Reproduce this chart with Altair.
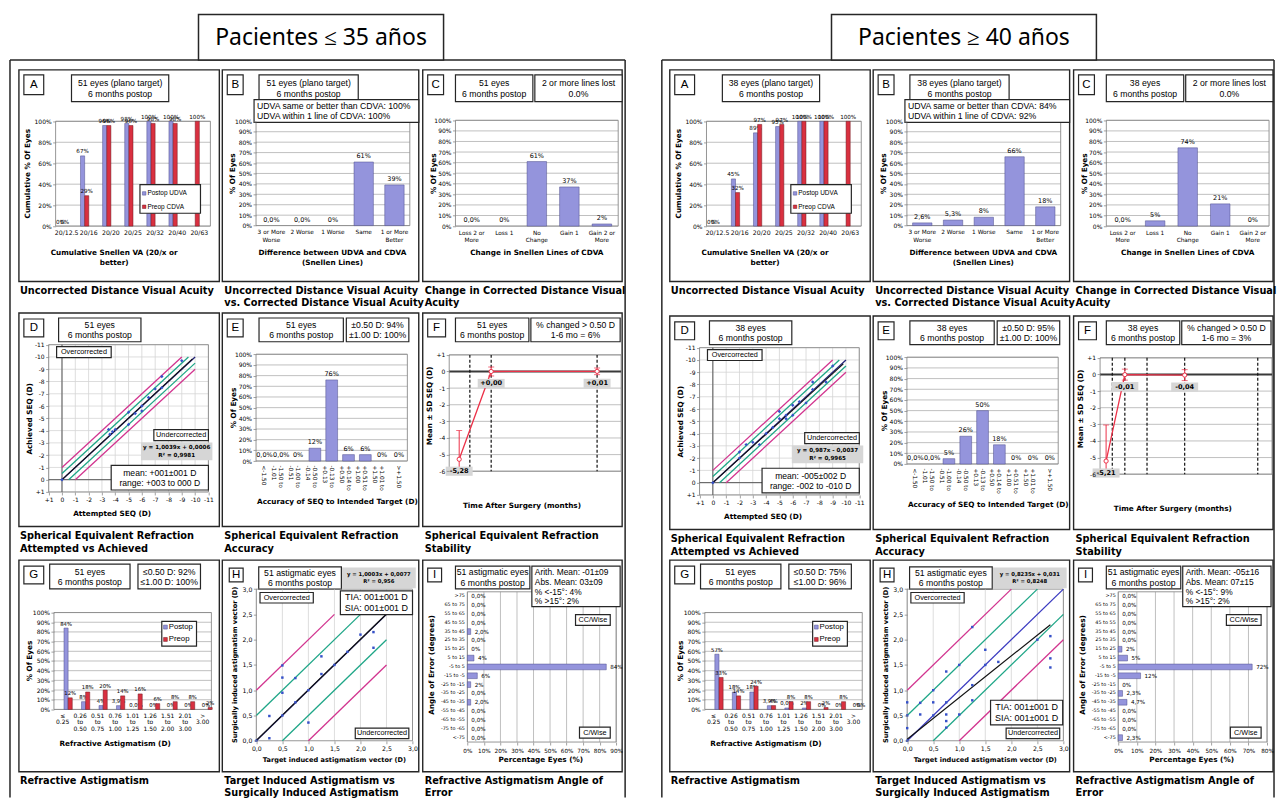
import altair as alt
import pandas as pd

# ============================ DATA ============================
HEADERS = ["Pacientes \u2264 35 a\u00f1os", "Pacientes \u2265 40 a\u00f1os"]
EYES = ["51 eyes\n6 months postop", "38 eyes\n6 months postop"]

A_CATS = ["20/12.5", "20/16", "20/20", "20/25", "20/32", "20/40", "20/63"]
A_SERIES = ["Postop UDVA", "Preop CDVA"]
A_UDVA = [[0, 67, 96, 98, 100, 100, None], [0, 45, 89, 95, 100, 100, None]]
A_CDVA = [[0, 29, 96, 96, 98, 98, 100], [0, 32, 97, 97, 100, 100, 100]]
A_TITLE = ["51 eyes (plano target)\n6 months postop", "38 eyes (plano target)\n6 months postop"]

B_CATS = ["3 or More\nWorse", "2 Worse", "1 Worse", "Same", "1 or More\nBetter"]
B_VALS = [[0, 0, 0, 61, 39], [2.6, 5.3, 8, 66, 18]]
B_LABS = [["0,0%", "0,0%", "0%", "61%", "39%"], ["2,6%", "5,3%", "8%", "66%", "18%"]]
B_INFO = ["UDVA same or better than CDVA: 100%\nUDVA within 1 line of CDVA: 100%",
          "UDVA same or better than CDVA: 84%\nUDVA within 1 line of CDVA: 92%"]

C_CATS = ["Loss 2 or\nMore", "Loss 1", "No\nChange", "Gain 1", "Gain 2 or\nMore"]
C_VALS = [[0, 0, 61, 37, 2], [0, 5, 74, 21, 0]]
C_LABS = [["0,0%", "0%", "61%", "37%", "2%"], ["0,0%", "5%", "74%", "21%", "0%"]]
C_LOST = "2 or more lines lost\n0.0%"

D_TICKS = list(range(-11, 2))
D_ATT = [[0, -3.5, -3.6, -3.8, -4.0, -5.0, -5.0, -5.5, -6.0, -6.0, -6.5, -7.0, -7.5, -7.5, -9.0],
         [0, -2.0, -2.0, -2.5, -3.0, -3.5, -4.0, -4.5, -5.0, -5.0, -5.5, -5.5, -6.0, -6.0, -6.5,
          -7.0, -7.5, -7.5, -8.5, -9.0]]
D_ACH = [[0, -4.1, -3.7, -3.9, -4.1, -4.5, -5.5, -5.4, -5.6, -6.0, -6.7, -7.4, -7.5, -8.4, -9.7],
         [0, -2.5, -2.0, -3.1, -3.3, -3.1, -4.0, -4.5, -5.2, -5.8, -5.5, -5.2, -6.3, -5.5, -6.6,
          -6.5, -8.2, -7.6, -8.2, -9.5]]
D_IDEAL = [(0, 0, -10, -10)]
D_BAND05 = [(0, -0.5, -9.5, -10), (-0.5, 0, -10, -9.5)]
D_BAND10 = [(0, -1, -9, -10), (-1, 0, -10, -9)]
D_FITLINE = [[(0, 0.0006, -9.8, -9.838)], [(0, -0.0037, -9.8, -9.676)]]
D_FIT = ["y = 1,0039x + 0,0006\nR\u00b2 = 0,9981", "y = 0,987x - 0,0037\nR\u00b2 = 0,9965"]
D_MEAN = ["mean: +001\u00b1001 D\nrange: +003 to 000 D", "mean: -005\u00b1002 D\nrange: -002 to -010 D"]

E_CATS = ["<-1.50", "-1.50 to\n-1.01", "-1.00 to\n-0.51", "-0.50 to\n-0.14", "-0.13 to\n+0.13",
          "+0.14 to\n+0.50", "+0.51 to\n+1.00", "+1.01 to\n+1.50", ">+1.50"]
E_VALS = [[0, 0, 0, 12, 76, 6, 6, 0, 0], [0, 0, 5, 26, 50, 18, 0, 0, 0]]
E_LABS = [["0,0%", "0,0%", "0%", "12%", "76%", "6%", "6%", "0%", "0%"],
          ["0,0%", "0,0%", "5%", "26%", "50%", "18%", "0%", "0%", "0%"]]
E_ACC = ["\u00b10.50 D: 94%\n\u00b11.00 D: 100%", "\u00b10.50 D: 95%\n\u00b11.00 D: 100%"]

F_TICKS = list(range(-6, 2))
F_T = [[5.8, 24.4, 86.0], [3.5, 14.4, 49.2]]
F_MEAN = [[-5.28, 0.00, 0.01], [-5.21, -0.01, -0.04]]
F_SD = [[1.73, 0.27, 0.20], [2.17, 0.33, 0.33]]
F_LABS = [["-5,28", "+0,00", "+0,01"], ["-5,21", "-0,01", "-0,04"]]
F_DASH = [[12.0, 24.4, 86.0], [7.1, 14.4, 27.3, 49.2, 91.7]]
F_CHANGED = ["% changed > 0.50 D\n1-6 mo = 6%", "% changed > 0.50 D\n1-6 mo = 3%"]

G_CATS = ["\u2264\n0.25", "0.26\nto\n0.50", "0.51\nto\n0.75", "0.76\nto\n1.00", "1.01\nto\n1.25",
          "1.26\nto\n1.50", "1.51\nto\n2.00", "2.01\nto\n3.00", ">\n3.00"]
G_SERIES = ["Postop", "Preop"]
G_POST = [[84, 8, 4, 3.9, 0, 0, 0, 0, 0], [57, 18, 18, 3.9, 1.5, 1.5, 0, 0, 0]]
G_PRE = [[12, 18, 20, 14, 16, 6, 8, 8, 2], [33, 14, 24, 4, 8, 8, 2, 8, 0]]
G_POST_LABS = [["84%", "8%", "4%", "3,9%", "0,0%", "0%", "0%", "0%", "0%"],
               ["57%", "18%", "18%", "3,9%", "0,0%", "2%", "0%", "0%", "0%"]]
G_PRE_LABS = [["12%", "18%", "20%", "14%", "16%", "6%", "8%", "8%", "2%"],
              ["33%", "14%", "24%", "4%", "8%", "8%", "2%", "8%", "0%"]]
G_ACC = ["\u22640.50 D: 92%\n\u22641.00 D: 100%", "\u22640.50 D: 75%\n\u22641.00 D: 96%"]

H_TICKS = [0, 0.5, 1.0, 1.5, 2.0, 2.5, 3.0]
H_TIA = [[0.0, 0.25, 0.25, 0.5, 0.5, 0.5, 0.5, 0.75, 0.75, 1.0, 1.0, 1.25, 1.25, 1.5, 1.75, 2.0, 2.25, 2.25],
         [0.0, 0.0, 0.0, 0.0, 0.25, 0.25, 0.5, 0.5, 0.5, 0.75, 0.75, 0.75, 0.75, 0.75, 1.0, 1.0, 1.25,
          1.25, 1.25, 1.5, 1.5, 1.75, 2.5, 2.75, 2.75, 2.75]]
H_SIA = [[0.0, 0.05, 0.49, 1.49, 1.25, 0.95, 0.5, 1.24, 0.76, 1.0, 0.36, 1.67, 1.32, 1.5, 1.76, 2.1, 2.15, 1.84],
         [0.0, 0.25, 0.5, 0.76, 0.75, 0.52, 1.0, 0.76, 0.5, 1.37, 0.76, 0.52, 0.39, 0.26, 1.5, 0.52, 2.25,
          1.1, 0.8, 1.8, 1.5, 1.56, 2.0, 2.07, 1.63, 1.45]]
H_IDEAL = [[(0, 0, 2.5, 2.5)], [(0, 0, 3, 3)]]
H_BAND05 = [[(0, 0.5, 2, 2.5), (0.5, 0, 2.5, 2)], [(0, 0.5, 2.5, 3), (0.5, 0, 3, 2.5)]]
H_BAND10 = [[(0, 1, 1.5, 2.5), (1, 0, 2.5, 1.5)], [(0, 1, 2, 3), (1, 0, 3, 2)]]
H_FITLINE = [[(0, 0.0077, 2.5, 2.508)], [(0, 0.031, 2.75, 2.296)]]
H_FIT = ["y = 1,0003x + 0,0077\nR\u00b2 = 0,956", "y = 0,8235x + 0,031\nR\u00b2 = 0,8248"]
H_VEC = "TIA: 001\u00b1001 D\nSIA: 001\u00b1001 D"
H_TITLE = "51 astigmatic eyes\n6 months postop"

I_CATS = [">75", "65 to 75", "55 to 65", "45 to 55", "35 to 45", "25 to 35", "15 to 25", "5 to 15",
          "-5 to 5", "-15 to -5", "-25 to -15", "-35 to -25", "-45 to -35", "-55 to -45",
          "-65 to -55", "-75 to -65", "<-75"]
I_VALS = [[0, 0, 0, 0, 2, 0, 0, 4, 84, 6, 2, 0, 2, 0, 0, 0, 0],
          [0, 0, 0, 0, 0, 0, 2, 5, 72, 12, 0, 2.3, 4.7, 0, 0, 0, 2.3]]
I_LABS = [["0,0%", "0,0%", "0,0%", "0,0%", "2,0%", "0,0%", "0%", "4%", "84%", "6%", "2%", "0,0%",
           "2,0%", "0,0%", "0,0%", "0,0%", "0,0%"],
          ["0,0%", "0,0%", "0,0%", "0,0%", "0,0%", "0,0%", "2%", "5%", "72%", "12%", "0%", "2,3%",
           "4,7%", "0,0%", "0,0%", "0,0%", "2,3%"]]
I_XMAX = [90, 80]
I_STATS = ["Arith. Mean: -01\u00b109\nAbs. Mean: 03\u00b109\n% <-15\u00b0: 4%\n% >15\u00b0: 2%",
           "Arith. Mean: -05\u00b116\nAbs. Mean: 07\u00b115\n% <-15\u00b0: 9%\n% >15\u00b0: 2%"]

CAPTIONS = [["Uncorrected Distance Visual Acuity",
             "Uncorrected Distance Visual Acuity\nvs. Corrected Distance Visual Acuity",
             "Change in Corrected Distance Visual\nAcuity"],
            ["Spherical Equivalent Refraction\nAttempted vs Achieved",
             "Spherical Equivalent Refraction\nAccuracy",
             "Spherical Equivalent Refraction\nStability"],
            ["Refractive Astigmatism",
             "Target Induced Astigmatism vs\nSurgically Induced Astigmatism",
             "Refractive Astigmatism Angle of\nError"]]

# ============================ STYLE ============================
ARIAL = "Liberation Sans"
VERD = "DejaVu Sans"
HEAD_FONT = "Noto Sans"
BLUE, BLUE_ST = "#9494dc", "#4d4d8c"
RED, RED_ST = "#d93040", "#6e1a20"
GRID = "#b0b0b0"
LGRID = "#d4d4d4"
BORDER = "#8a8a8a"
FRAME = "#262626"
MAG = "#d2348f"
GRN = "#1ea687"
NAVY = "#23237a"
IDEAL_BLUE = "#3a3ac0"
PTC = "#3550c8"
FRED = "#ec3148"
FILLGREY = "#d6d6d6"
SIGNED = "datum.value > 0 ? '+' + datum.value : '' + datum.value"
COMMA = "replace(format(datum.value, '.1f'), '.', ',')"
PCT = "datum.value + '%'"
RECT_PATH = "M-1,-0.34L1,-0.34L1,0.34L-1,0.34Z"

# ============================ LAYOUT ============================
SX = 1269 / 1277
SY = 0.99


def PX(x):
    return 8 + (x - 8) * SX


def PY(y):
    return 8 + (y - 8) * SY


COLB = [8, 224, 424, 630, 880, 1080, 1285]
ROWB = [8, 316, 566, 807]
COLP = [round(PX(v)) for v in COLB]
ROWP = [round(PY(v)) for v in ROWB]
ONE = pd.DataFrame({"o": [0]})


class Cell:
    def __init__(self, ci, ri, dx=0.0, dy=0.0):
        self.ox, self.oy = COLP[ci], ROWP[ri]
        self.w, self.h = COLP[ci + 1] - COLP[ci], ROWP[ri + 1] - ROWP[ri]
        self.dx, self.dy = dx, dy
        self.layers = []

    def X(self, x):
        return round(PX(x + self.dx) - self.ox, 2)

    def Y(self, y):
        return round(PY(y + self.dy) - self.oy, 2)

    def add(self, ch):
        self.layers.append(ch)

    def chart(self):
        return alt.layer(*self.layers).properties(width=self.w, height=self.h)


def box(c, x0, y0, x1, y1, fill="white", stroke=FRAME, sw=1.2):
    kw = {"fill": fill}
    if stroke:
        kw["stroke"] = stroke
        kw["strokeWidth"] = sw
    else:
        kw["strokeWidth"] = 0
    c.add(alt.Chart(ONE).mark_rect(**kw).encode(
        x=alt.value(c.X(x0)), x2=alt.value(c.X(x1)), y=alt.value(c.Y(y0)), y2=alt.value(c.Y(y1))))


def txt(c, x, y, s, size=8.7, bold=False, font=ARIAL, align="center", baseline="middle",
        angle=None, color="black", lh=None):
    n = s.count("\n") + 1
    if lh is None:
        lh = round(size * 1.2, 2)
    if n > 1 and baseline == "middle":
        baseline = "top"
        y = y - (n - 1) * lh / 2 - 0.44 * size
    kw = dict(text=s, fontSize=size, font=font, align=align, baseline=baseline, color=color,
              lineBreak="\n", lineHeight=lh)
    if bold:
        kw["fontWeight"] = "bold"
    if angle is not None:
        kw["angle"] = angle
    c.add(alt.Chart(ONE).mark_text(**kw).encode(x=alt.value(c.X(x)), y=alt.value(c.Y(y))))


def seg(c, x0, y0, x1, y1, color=FRAME, sw=1.4):
    c.add(alt.Chart(ONE).mark_rule(color=color, strokeWidth=sw).encode(
        x=alt.value(c.X(x0)), x2=alt.value(c.X(x1)), y=alt.value(c.Y(y0)), y2=alt.value(c.Y(y1))))


def frame(c, x0, y0, x1, y1):
    box(c, x0, y0, x1, y1, fill="white", stroke=FRAME, sw=1.4)


def letter(c, x0, y0, x1, y1, s):
    box(c, x0, y0, x1, y1, fill="white", stroke=FRAME, sw=1.2)
    txt(c, (x0 + x1) / 2, (y0 + y1) / 2 + 0.5, s, size=11.5)


def caption(c, x, y, s, lh=12.5):
    txt(c, x, y - 4.4, s, size=9.8, bold=True, font=VERD, align="left", baseline="top", lh=lh)


def atitle(c, x, y, s, size=7.3, angle=None, lh=10):
    txt(c, x, y, s, size=size, bold=True, font=VERD, angle=angle, lh=lh)


def left_axis(c, px0, ticks=None, expr=None, size=6.0, tick=True, pad=1.5):
    kw = dict(orient="left", offset=-c.X(px0), title=None, domain=False, grid=False, ticks=tick,
              labelFont=VERD, labelFontSize=size, labelColor="black", labelPadding=pad,
              labelOverlap=False, zindex=2)
    if tick:
        kw.update(tickSize=3, tickColor=BORDER, tickWidth=0.8)
    if ticks is not None:
        kw.update(values=ticks, labelFlush=False)
    if expr:
        kw["labelExpr"] = expr
    return alt.Axis(**kw)


def bottom_axis(c, pyb, ticks=None, expr=None, size=6.0, tick=True, pad=2.0, lh=None, angle=0):
    kw = dict(orient="bottom", offset=c.Y(pyb) - c.h, title=None, domain=False, grid=False, ticks=tick,
              labelFont=VERD, labelFontSize=size, labelColor="black", labelPadding=pad,
              labelOverlap=False, labelAngle=angle, zindex=2)
    if tick:
        kw.update(tickSize=3, tickColor=BORDER, tickWidth=0.8)
    if ticks is not None:
        kw.update(values=ticks, labelFlush=False)
    if expr:
        kw["labelExpr"] = expr
    if lh:
        kw["labelLineHeight"] = lh
    return alt.Axis(**kw)


def vbars(c, cats, series, vals_list, labs_list, fills, strokes, px0, px1, pyb, pyt, ymax, ystep,
          pin, sub_pad=0.0, lab_size=6.5, lab_dy=2.0, xl_size=6.2, xl_lh=7.5, xl_angle=0, xl_pad=3):
    xs = alt.Scale(domain=cats, range=[c.X(px0), c.X(px1)], paddingInner=pin, paddingOuter=pin / 2)
    ys = alt.Scale(domain=[0, ymax], range=[c.Y(pyb), c.Y(pyt)])
    ticks = list(range(0, ymax + 1, ystep))
    yax = left_axis(c, px0, ticks, PCT)
    xax = bottom_axis(c, pyb, None, "split(datum.label, '\\n')", size=xl_size, tick=False,
                      pad=xl_pad, lh=xl_lh, angle=xl_angle)
    gdf = pd.DataFrame({"t": ticks})
    c.add(alt.Chart(gdf).mark_rule(color=GRID, strokeWidth=0.8).encode(
        y=alt.Y("t:Q", scale=ys, axis=yax), x=alt.value(c.X(px0)), x2=alt.value(c.X(px1))))
    box(c, px0, pyt, px1, pyb, fill="transparent", stroke=BORDER, sw=0.9)
    for k in range(len(series)):
        rows = [(cat, series[k], v, l) for cat, v, l in zip(cats, vals_list[k], labs_list[k]) if v is not None]
        df = pd.DataFrame(rows, columns=["cat", "ser", "v", "lab"])
        enc = {"x": alt.X("cat:N", scale=xs, axis=xax), "y": alt.Y("v:Q", scale=ys, axis=yax)}
        if len(series) > 1:
            enc["xOffset"] = alt.XOffset("ser:N", scale=alt.Scale(domain=series, paddingInner=sub_pad))
        c.add(alt.Chart(df[df["v"] > 0]).mark_bar(fill=fills[k], stroke=strokes[k], strokeWidth=0.5)
              .encode(**enc))
        c.add(alt.Chart(df).mark_text(font=VERD, fontSize=lab_size, baseline="bottom", dy=-lab_dy,
                                      color="black").encode(text="lab:N", **enc))


def pct_labels(vals):
    return ["" if v is None else f"{v:g}%" for v in vals]


def diag(c, dmin, dmax, xr, yr, ticks, expr, vgrid=True, hgrid=True, lsize=6.0):
    xs = alt.Scale(domain=[dmin, dmax], range=[c.X(xr[0]), c.X(xr[1])])
    ys = alt.Scale(domain=[dmin, dmax], range=[c.Y(yr[0]), c.Y(yr[1])])
    xl, xh, yt, yb = min(xr), max(xr), min(yr), max(yr)
    xax = bottom_axis(c, yb, ticks, expr, size=lsize)
    yax = left_axis(c, xl, ticks, expr, size=lsize)
    tdf = pd.DataFrame({"t": ticks})
    c.add(alt.Chart(tdf).mark_rule(color=LGRID, strokeWidth=0.8 if vgrid else 0).encode(
        x=alt.X("t:Q", scale=xs, axis=xax), y=alt.value(c.Y(yt)), y2=alt.value(c.Y(yb))))
    c.add(alt.Chart(tdf).mark_rule(color=LGRID, strokeWidth=0.8 if hgrid else 0).encode(
        y=alt.Y("t:Q", scale=ys, axis=yax), x=alt.value(c.X(xl)), x2=alt.value(c.X(xh))))
    box(c, xl, yt, xh, yb, fill="transparent", stroke=BORDER, sw=0.9)
    return xs, ys, xax, yax, (xl, xh, yt, yb)


def segs(c, S, sc, color, sw=1.3):
    xs, ys, xax, yax = sc
    df = pd.DataFrame(S, columns=["x0", "y0", "x1", "y1"])
    c.add(alt.Chart(df).mark_rule(color=color, strokeWidth=sw).encode(
        x=alt.X("x0:Q", scale=xs, axis=xax), y=alt.Y("y0:Q", scale=ys, axis=yax),
        x2="x1:Q", y2="y1:Q"))


def pts(c, X, Y, sc, shape, size):
    xs, ys, xax, yax = sc
    df = pd.DataFrame({"a": X, "b": Y})
    c.add(alt.Chart(df).mark_point(shape=shape, filled=True, color=PTC, size=size, opacity=1).encode(
        x=alt.X("a:Q", scale=xs, axis=xax), y=alt.Y("b:Q", scale=ys, axis=yax)))


# ============================ PANELS ============================
def header(c, g):
    odx, ody = c.dx, c.dy
    c.dx = c.dy = 0
    hx0, hx1 = [(200, 447), (838, 1105)][g]
    gx0, gx1 = [(10, 630), (667, 1284)][g]
    seg(c, gx0, 60, gx0, 806, sw=1.5)
    seg(c, gx1, 60, gx1, 806, sw=1.5)
    seg(c, gx0, 60, gx1, 60, sw=1.5)
    box(c, hx0, 14, hx1, 60, stroke=FRAME, sw=1.5)
    txt(c, (hx0 + hx1) / 2, 37.5, HEADERS[g], size=23, font=HEAD_FONT)
    c.dx, c.dy = odx, ody


def panel_A(c, g):
    frame(c, 19, 70, 221, 284)
    letter(c, 24, 75, 44, 95, "A")
    box(c, 72, 75, 170, 102)
    txt(c, 121, 88.5, A_TITLE[g], lh=10.5)
    vbars(c, A_CATS, A_SERIES, [A_UDVA[g], A_CDVA[g]], [pct_labels(A_UDVA[g]), pct_labels(A_CDVA[g])],
          [BLUE, RED], [BLUE_ST, RED_ST], 56, 212, 228, 122, 100, 20, pin=0.25,
          lab_size=5.6, lab_dy=1.5, xl_size=6.2)
    box(c, 141, 186, 202, 215)
    box(c, 143.5, 193.2, 147, 196.7, fill=BLUE, stroke=BLUE_ST, sw=0.5)
    txt(c, 148.5, 195, A_SERIES[0], size=6.5, align="left")
    box(c, 143.5, 206.7, 147, 210.2, fill=RED, stroke=RED_ST, sw=0.5)
    txt(c, 148.5, 208.5, A_SERIES[1], size=6.5, align="left")
    atitle(c, 28, 175, "Cumulative % Of Eyes", angle=270)
    atitle(c, 115, 259, "Cumulative Snellen VA (20/x or\nbetter)")
    caption(c, 20, 293, CAPTIONS[0][0])


def panel_B(c, g):
    frame(c, 224, 70, 422, 284)
    letter(c, 229, 75, 245, 95, "B")
    box(c, 261, 75, 361, 102)
    txt(c, 311, 88.5, A_TITLE[g], lh=10.5)
    vbars(c, B_CATS, ["v"], [B_VALS[g]], [B_LABS[g]], [BLUE], [BLUE_ST], 258, 413, 227.5, 122, 100, 10,
          pin=0.37, lab_size=6.5, lab_dy=3, xl_size=5.8, xl_lh=7.5)
    box(c, 256, 100, 422, 123)
    txt(c, 259, 111.5, B_INFO[g], align="left", lh=10.5)
    atitle(c, 235, 175, "% Of Eyes", angle=270)
    atitle(c, 335, 259, "Difference between  UDVA and CDVA\n(Snellen Lines)")
    caption(c, 226, 293, CAPTIONS[0][1])


def panel_C(c, g):
    frame(c, 426, 70, 627, 284)
    letter(c, 431, 75, 447, 95, "C")
    box(c, 459, 75, 537, 102)
    txt(c, 498, 88.5, EYES[g], lh=10.5)
    box(c, 539, 75, 627, 102)
    txt(c, 583, 88.5, C_LOST, lh=10.5)
    vbars(c, C_CATS, ["v"], [C_VALS[g]], [C_LABS[g]], [BLUE], [BLUE_ST], 459, 623, 228, 121, 100, 10,
          pin=0.4, lab_size=6.5, lab_dy=3, xl_size=5.8, xl_lh=7.5)
    atitle(c, 437, 175, "% Of Eyes", angle=270)
    atitle(c, 541, 255, "Change in Snellen Lines of CDVA")
    caption(c, 428, 293, CAPTIONS[0][2])


def panel_D(c, g):
    frame(c, 19, 316, 221, 532)
    letter(c, 24, 322, 44, 340, "D")
    box(c, 59, 321, 142, 345)
    txt(c, 100.5, 333, EYES[g], lh=10.5)
    xs, ys, xax, yax, (xl, xh, yt, yb) = diag(c, -11, 1, (210, 49), (348, 497), D_TICKS, SIGNED)
    sc = (xs, ys, xax, yax)
    zdf = pd.DataFrame({"z": [0]})
    c.add(alt.Chart(zdf).mark_rule(color="#555555", strokeWidth=1).encode(
        x=alt.X("z:Q", scale=xs, axis=xax), y=alt.value(c.Y(yt)), y2=alt.value(c.Y(yb))))
    c.add(alt.Chart(zdf).mark_rule(color="#555555", strokeWidth=1).encode(
        y=alt.Y("z:Q", scale=ys, axis=yax), x=alt.value(c.X(xl)), x2=alt.value(c.X(xh))))
    segs(c, D_BAND10, sc, MAG)
    segs(c, D_BAND05, sc, GRN)
    segs(c, D_IDEAL, sc, NAVY)
    segs(c, D_FITLINE[g], sc, "#111111", 1.1)
    pts(c, D_ATT[g], D_ACH[g], sc, "diamond", 12)
    box(c, 57, 350, 112, 361)
    txt(c, 84.5, 355.5, "Overcorrected", size=7.3)
    box(c, 155, 434, 210, 445)
    txt(c, 182.5, 439.5, "Undercorrected", size=7.3)
    box(c, 142, 447, 214, 465, fill=FILLGREY, stroke=None)
    txt(c, 178, 456, D_FIT[g], size=5.6, bold=True, font=VERD, lh=7.5)
    box(c, 112, 470, 210, 495)
    txt(c, 161, 482.5, D_MEAN[g], size=8.6, lh=10.5)
    atitle(c, 30, 423, "Achieved SEQ (D)", angle=270)
    atitle(c, 113, 519, "Attempted SEQ (D)")
    caption(c, 20, 541, CAPTIONS[1][0])


def panel_E(c, g):
    frame(c, 224, 316, 422, 532)
    letter(c, 229, 322, 245, 340, "E")
    box(c, 261, 321, 346, 345)
    txt(c, 303.5, 333, EYES[g], lh=10.5)
    box(c, 349, 321, 412, 345)
    txt(c, 380.5, 333, E_ACC[g], lh=10.5)
    vbars(c, E_CATS, ["v"], [E_VALS[g]], [E_LABS[g]], [BLUE], [BLUE_ST], 258, 410.5, 465.7, 357.7, 100, 10,
          pin=0.3, lab_size=6.5, lab_dy=3, xl_size=5.8, xl_lh=7.0, xl_angle=90, xl_pad=4)
    atitle(c, 236, 412, "% Of Eyes", angle=270)
    atitle(c, 340, 507, "Accuracy of SEQ to Intended Target (D)")
    caption(c, 226, 541, CAPTIONS[1][1])


def panel_F(c, g):
    frame(c, 426, 316, 627, 532)
    letter(c, 431, 322, 449, 340, "F")
    box(c, 459, 321, 533, 345)
    txt(c, 496, 333, EYES[g], lh=10.5)
    box(c, 535, 321, 625, 345)
    txt(c, 580, 333, F_CHANGED[g], lh=10.5)
    px0, px1, pyb, pyt = 452.7, 626, 476, 358.3
    xs = alt.Scale(domain=[0, 100], range=[c.X(px0), c.X(px1)])
    ys = alt.Scale(domain=[-6, 1], range=[c.Y(pyb), c.Y(pyt)], clamp=True)
    yax = left_axis(c, px0, F_TICKS, SIGNED)
    gdf = pd.DataFrame({"t": F_TICKS})
    c.add(alt.Chart(gdf).mark_rule(color=GRID, strokeWidth=0.8).encode(
        y=alt.Y("t:Q", scale=ys, axis=yax), x=alt.value(c.X(px0)), x2=alt.value(c.X(px1))))
    box(c, px0, pyt, px1, pyb, fill="transparent", stroke=BORDER, sw=0.9)
    zdf = pd.DataFrame({"z": [0]})
    c.add(alt.Chart(zdf).mark_rule(color="#3a3a3a", strokeWidth=2).encode(
        y=alt.Y("z:Q", scale=ys, axis=yax), x=alt.value(c.X(px0)), x2=alt.value(c.X(px1))))
    ddf = pd.DataFrame({"d": F_DASH[g]})
    c.add(alt.Chart(ddf).mark_rule(color="#111111", strokeWidth=1.2, strokeDash=[3, 2]).encode(
        x=alt.X("d:Q", scale=xs, axis=None), y=alt.value(c.Y(pyt)), y2=alt.value(c.Y(pyb))))
    fdf = pd.DataFrame({"t": F_T[g], "m": F_MEAN[g], "sd": F_SD[g], "lab": F_LABS[g]})
    fdf["lo"] = fdf["m"] - fdf["sd"]
    fdf["hi"] = fdf["m"] + fdf["sd"]
    X = alt.X("t:Q", scale=xs, axis=None)
    c.add(alt.Chart(fdf).mark_rule(color=FRED, strokeWidth=1).encode(
        x=X, y=alt.Y("lo:Q", scale=ys, axis=yax), y2="hi:Q"))
    for col in ["lo", "hi"]:
        c.add(alt.Chart(fdf).mark_tick(color=FRED, orient="horizontal", size=6, thickness=1).encode(
            x=X, y=alt.Y(f"{col}:Q", scale=ys, axis=yax)))
    c.add(alt.Chart(fdf).mark_line(color=FRED, strokeWidth=1.3).encode(
        x=X, y=alt.Y("m:Q", scale=ys, axis=yax)))
    c.add(alt.Chart(fdf).mark_point(shape="circle", filled=True, fill="white", stroke=FRED,
                                    strokeWidth=1, size=18, opacity=1).encode(
        x=X, y=alt.Y("m:Q", scale=ys, axis=yax)))
    c.add(alt.Chart(fdf).mark_point(shape=RECT_PATH, filled=True, fill=FILLGREY, strokeWidth=0,
                                    size=729, opacity=1, yOffset=12).encode(
        x=X, y=alt.Y("m:Q", scale=ys, axis=yax)))
    c.add(alt.Chart(fdf).mark_text(font=VERD, fontWeight="bold", fontSize=6.6, dy=12,
                                   baseline="middle", color="black").encode(
        x=X, y=alt.Y("m:Q", scale=ys, axis=yax), text="lab:N"))
    atitle(c, 433, 410, "Mean \u00b1 SD SEQ (D)", angle=270)
    atitle(c, 526, 511, "Time After Surgery (months)")
    caption(c, 428, 541, CAPTIONS[1][2])


def panel_G(c, g):
    frame(c, 19, 566, 221, 780)
    letter(c, 24, 572, 44, 590, "G")
    box(c, 50, 570, 131, 595)
    txt(c, 90.5, 582.5, "51 eyes\n6 months postop", lh=10.5)
    box(c, 139, 570, 202, 595)
    txt(c, 170.5, 582.5, G_ACC[g], lh=10.5)
    vbars(c, G_CATS, G_SERIES, [G_POST[g], G_PRE[g]], [G_POST_LABS[g], G_PRE_LABS[g]],
          [BLUE, RED], [BLUE_ST, RED_ST], 54.3, 213, 717, 619, 100, 10, pin=0.2, sub_pad=0.1,
          lab_size=5.3, lab_dy=1.5, xl_size=6.0, xl_lh=6.6, xl_pad=3)
    box(c, 163, 628, 198, 653)
    box(c, 164.8, 631.7, 168.6, 635.7, fill=BLUE, stroke=BLUE_ST, sw=0.5)
    txt(c, 170, 633.8, G_SERIES[0], size=7.8, align="left")
    box(c, 164.8, 644.2, 168.6, 648.2, fill=RED, stroke=RED_ST, sw=0.5)
    txt(c, 170, 646.2, G_SERIES[1], size=7.8, align="left")
    atitle(c, 30, 668, "% Of Eyes", angle=270)
    atitle(c, 116, 752, "Refractive Astigmatism (D)")
    caption(c, 20, 789, CAPTIONS[2][0], lh=12)


def panel_H(c, g):
    frame(c, 224, 566, 422, 780)
    letter(c, 231, 574, 245, 588, "H")
    box(c, 260.7, 572.7, 344, 595.3)
    txt(c, 302.3, 584, H_TITLE, lh=10.5)
    box(c, 344.7, 573.3, 419, 594.3, fill=FILLGREY, stroke=None)
    txt(c, 381.8, 583.8, H_FIT[g], size=5.3, bold=True, font=VERD, lh=7.5)
    xs, ys, xax, yax, _ = diag(c, 0, 3, (258.3, 415.7), (748.7, 595.3), H_TICKS, COMMA, hgrid=False, lsize=6.2)
    sc = (xs, ys, xax, yax)
    segs(c, H_BAND10[g], sc, MAG)
    segs(c, H_BAND05[g], sc, GRN)
    segs(c, H_IDEAL[g], sc, NAVY if g == 0 else IDEAL_BLUE)
    segs(c, H_FITLINE[g], sc, "#111111", 1.2)
    pts(c, H_TIA[g], H_SIA[g], sc, "square", 6)
    box(c, 262, 598.7, 315.7, 609.3)
    txt(c, 288.9, 604, "Overcorrected", size=7.3)
    vx0, vy0, vx1, vy1 = [(343, 597, 415.7, 621), (342.3, 707.7, 415, 732.7)][g]
    box(c, vx0, vy0, vx1, vy1)
    txt(c, (vx0 + vx1) / 2, (vy0 + vy1) / 2, H_VEC, size=9, lh=11)
    box(c, 358, 736, 412, 746.5)
    txt(c, 385, 741.3, "Undercorrected", size=7.3)
    atitle(c, 237.3, 672, "Surgically induced astigmatism vector (D)", size=6.6, angle=270)
    atitle(c, 337, 767.7, "Target induced astigmatism vector (D)", size=6.6)
    caption(c, 226, 789, CAPTIONS[2][1], lh=12)


def panel_I(c, g):
    frame(c, 426, 566, 627, 780)
    letter(c, 431, 574, 445, 588, "I")
    box(c, 459, 572, 534, 595)
    txt(c, 496.5, 583.5, H_TITLE, lh=10.5)
    px0, px1, pyt, pyb = 471, 621, 598, 750
    xmax = I_XMAX[g]
    xs = alt.Scale(domain=[0, xmax], range=[c.X(px0), c.X(px1)])
    ys = alt.Scale(domain=I_CATS, range=[c.Y(pyt), c.Y(pyb)], paddingInner=0.35, paddingOuter=0.175)
    xticks = list(range(0, xmax + 1, 10))
    xax = bottom_axis(c, pyb, xticks, PCT, size=5.7)
    yax = left_axis(c, px0, None, None, size=4.9, tick=False, pad=3)
    gdf = pd.DataFrame({"t": xticks})
    c.add(alt.Chart(gdf).mark_rule(color=GRID, strokeWidth=0.8).encode(
        x=alt.X("t:Q", scale=xs, axis=xax), y=alt.value(c.Y(pyt)), y2=alt.value(c.Y(pyb))))
    box(c, px0, pyt, px1, pyb, fill="transparent", stroke=BORDER, sw=0.9)
    df = pd.DataFrame({"cat": I_CATS, "v": I_VALS[g], "lab": I_LABS[g]})
    enc = {"x": alt.X("v:Q", scale=xs, axis=xax), "y": alt.Y("cat:N", scale=ys, axis=yax)}
    c.add(alt.Chart(df[df["v"] > 0]).mark_bar(fill=BLUE, stroke=BLUE_ST, strokeWidth=0.5).encode(**enc))
    c.add(alt.Chart(df).mark_text(font=VERD, fontSize=5.6, align="left", dx=4, baseline="middle",
                                  color="black").encode(text="lab:N", **enc))
    box(c, 536, 572, 625, 613)
    txt(c, 539, 592.5, I_STATS[g], size=8.4, align="left", lh=9.6)
    box(c, 580, 621, 615, 632)
    txt(c, 597.5, 626.5, "CC/Wise", size=7.3)
    box(c, 584, 735, 615, 746)
    txt(c, 599.5, 740.5, "C/Wise", size=7.3)
    atitle(c, 435, 672, "Angle of Error (degrees)", angle=270)
    atitle(c, 545, 768, "Percentage Eyes (%)")
    caption(c, 428, 789, CAPTIONS[2][2], lh=12)


# ============================ ASSEMBLY ============================
PANELS = [(panel_A, panel_B, panel_C), (panel_D, panel_E, panel_F), (panel_G, panel_H, panel_I)]
cells = []
for r, funcs in enumerate(PANELS):
    for g in range(2):
        for k, f in enumerate(funcs):
            c = Cell(3 * g + k, r, dx=656 * g, dy=(3 if (g == 1 and r == 1) else 0))
            if r == 0 and k == 0:
                header(c, g)
            f(c, g)
            cells.append(c.chart())

chart = (alt.concat(*cells, columns=6, spacing=0, bounds="flush", align="each")
         .properties(padding=0, background="white")
         .configure_view(strokeWidth=0))

chart.save("out.html", embed_options={"renderer": "svg", "actions": False})
